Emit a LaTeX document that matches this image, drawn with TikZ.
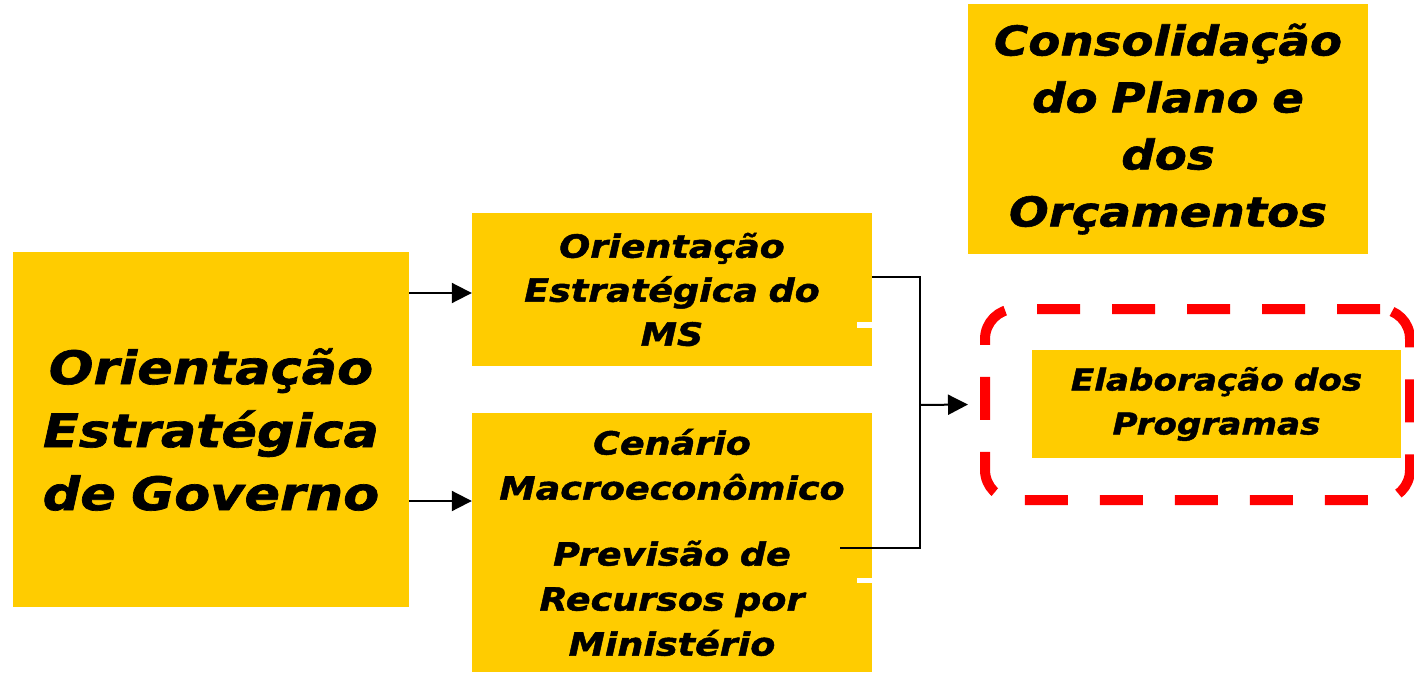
\documentclass[tikz,border=0pt]{standalone}
\usepackage{fontspec}
\setmainfont{DejaVu Sans}
\newfontfamily\boxfont{DejaVu Sans}[FakeStretch=1.14, BoldItalicFeatures={FakeBold=1.5}]
\usetikzlibrary{arrows.meta}
\definecolor{boxyellow}{HTML}{FFCC00}
\definecolor{framered}{HTML}{FF0000}
\tikzset{
    ybox/.style={fill=boxyellow, inner sep=0pt, align=center},
    arr/.style={-{Triangle[length=20pt,width=20pt]}, line width=2pt},
    link/.style={line width=2pt}
}
\newcommand{\boxtext}[2]{\boxfont\bfseries\itshape\fontsize{#1}{#2}\selectfont}
\begin{document}
\begin{tikzpicture}[x=1pt,y=-1pt]
        \useasboundingbox (0,0) rectangle (1414,674);
        %boxes
        \node[ybox, minimum width=396pt, minimum height=355pt, text width=390pt,
              font=\boxtext{46}{63}] (gov) at (211,429.5)
              {Orientação\\Estratégica\\de Governo};
        \node[ybox, minimum width=400pt, minimum height=153pt, text width=396pt,
              font=\boxtext{32}{44}] (ms) at (672,289.5)
              {Orientação\\Estratégica do\\MS};
        \node[ybox, minimum width=400pt, minimum height=259pt, text width=396pt,
              font=\boxtext{32}{45}] (cen) at (672,542.5)
              {Cenário\\Macroeconômico\\[21pt]Previsão de\\Recursos por\\Ministério};
        \node[ybox, minimum width=400pt, minimum height=250pt, text width=396pt,
              font=\boxtext{41}{57}] (cons) at (1168,129)
              {Consolidação\\do Plano e\\dos\\Orçamentos};
        \node[ybox, minimum width=369pt, minimum height=108pt, text width=365pt,
              font=\boxtext{30}{44}] (elab) at (1216.5,404)
              {Elaboração dos\\Programas};
        %notches
        \fill[white] (857,322) rectangle (872,328);
        \fill[white] (857,578) rectangle (872,583);
        %dashed frame
        \node[draw=framered, line width=10pt, dash pattern=on 43pt off 32pt,
              rounded corners=30pt, minimum width=425pt, minimum height=191pt,
              inner sep=0pt] (progs) at (1197.5,404.5) {};
        %arrows
        \coordinate (join) at (920,405);
        \draw[arr] (gov.east |- 0,293) -- (ms.west |- 0,293);
        \draw[arr] (gov.east |- 0,501) -- (cen.west |- 0,501);
        \draw[link] (ms.east |- 0,277) -| (join) |- (840,548);
        \draw[arr] (join) -- ([xshift=-12pt]progs.west);
    \end{tikzpicture}
\end{document}
